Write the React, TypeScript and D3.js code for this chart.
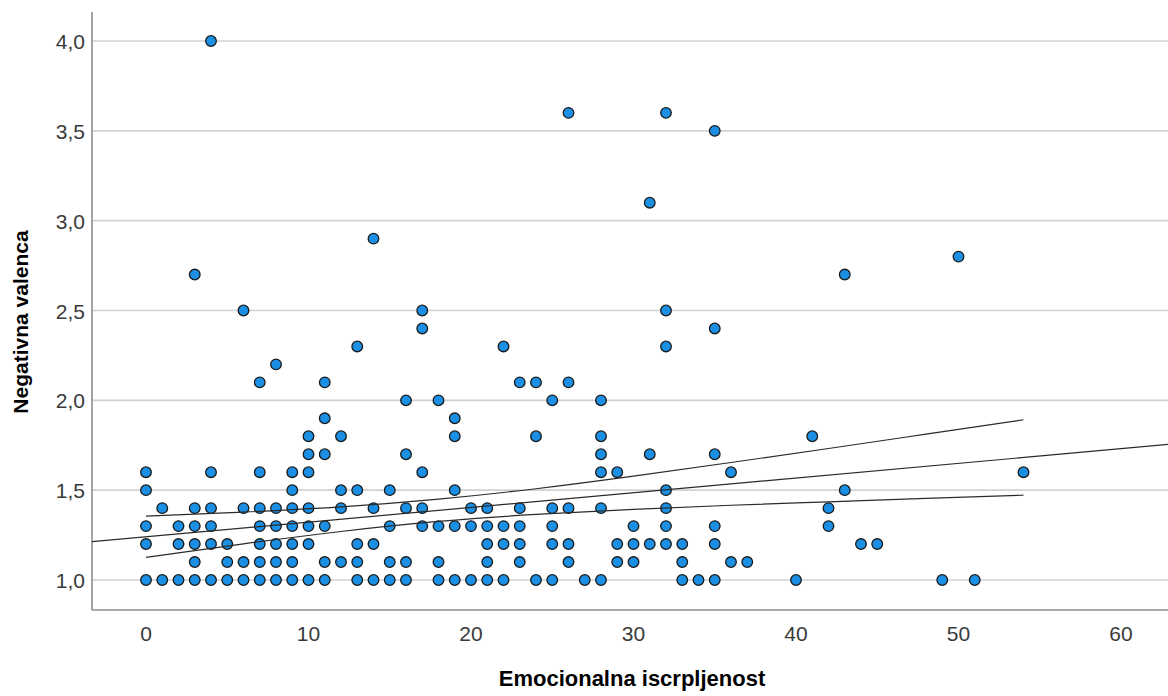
import React from "react";
import * as d3 from "d3";

// x values (Emocionalna iscrpljenost) at each level of Negativna valenca
const valence10 = [0,1,2,3,4,5,6,7,8,9,10,11,13,14,15,16,18,19,20,21,22,24,25,27,28,33,34,35,40,49,51];
const valence11 = [3,5,6,7,8,9,11,12,13,15,16,18,21,23,26,29,30,33,36,37];
const valence12 = [0,2,3,4,5,7,8,9,10,13,14,21,22,23,25,26,29,30,31,32,33,35,44,45];
const valence13 = [0,2,3,4,7,8,9,10,11,15,17,18,19,20,21,22,23,25,30,32,35,42];
const valence14 = [1,3,4,6,7,8,9,10,12,14,16,17,20,21,23,25,26,28,32,42];
const valence15 = [0,9,12,13,15,19,32,43];
const valence16 = [0,4,7,9,10,17,28,29,36,54];
const valence17 = [10,11,16,28,31,35];
const valence18 = [10,12,19,24,28,41];
const valence19 = [11,19];
const valence20 = [16,18,25,28];
const valence21 = [7,11,23,24,26];
const valence22 = [8];
const valence23 = [13,22,32];
const valence24 = [17,35];
const valence25 = [6,17,32];
const valence27 = [3,43];
const valence28 = [50];
const valence29 = [14];
const valence31 = [31];
const valence35 = [35];
const valence36 = [26,32];
const valence40 = [4];

const valenceLevels = [1.0,1.1,1.2,1.3,1.4,1.5,1.6,1.7,1.8,1.9,2.0,2.1,2.2,2.3,2.4,2.5,2.7,2.8,2.9,3.1,3.5,3.6,4.0];
const rows = [valence10,valence11,valence12,valence13,valence14,valence15,valence16,valence17,valence18,valence19,valence20,valence21,valence22,valence23,valence24,valence25,valence27,valence28,valence29,valence31,valence35,valence36,valence40];

// fit line
const fitIntercept = 1.2405;
const fitSlope = 0.00817;
// 95% CI of mean
const ciX = [0, 6, 12, 18, 24, 30, 36, 42, 48, 54];
const ciUpper = [1.355, 1.378, 1.407, 1.450, 1.508, 1.578, 1.654, 1.732, 1.812, 1.892];
const ciLower = [1.126, 1.201, 1.270, 1.326, 1.365, 1.393, 1.416, 1.435, 1.454, 1.472];

const xTicks = [0, 10, 20, 30, 40, 50, 60];
const yTicks = [1.0, 1.5, 2.0, 2.5, 3.0, 3.5, 4.0];

const W = 1168, H = 696;
const left = 92, right = 1168, top = 12, bottom = 610;

export default function App() {
  const x = d3.scaleLinear().domain([0, 60]).range([146, 1121]);
  const y = d3.scaleLinear().domain([1, 4]).range([580, 41]);
  const xMin = x.invert(left), xMax = x.invert(right);

  const points: { xv: number; yv: number }[] = [];
  rows.forEach((r, i) => r.forEach((xv) => points.push({ xv, yv: valenceLevels[i] })));

  const line = d3.line<[number, number]>().x((d) => x(d[0])).y((d) => y(d[1])).curve(d3.curveNatural);
  const upper = line(ciX.map((v, i) => [v, ciUpper[i]] as [number, number])) || "";
  const lower = line(ciX.map((v, i) => [v, ciLower[i]] as [number, number])) || "";
  const fmt = (v: number) => v.toFixed(1).replace(".", ",");
  const font = "'Liberation Sans', Arial, sans-serif";

  return (
    <svg width={W} height={H} style={{ position: "absolute", left: 0, top: 0, background: "#fff" }} fontFamily={font}>
      <defs>
        <clipPath id="plot"><rect x={left} y={top} width={right - left} height={bottom - top} /></clipPath>
      </defs>
      {yTicks.map((t) => (
        <line key={"g" + t} x1={left} x2={right} y1={y(t)} y2={y(t)} stroke="#d2d2d2" strokeWidth={1.6} />
      ))}
      <line x1={left} x2={left} y1={top} y2={bottom} stroke="#8c8c8c" strokeWidth={1.6} />
      <line x1={left} x2={right} y1={bottom} y2={bottom} stroke="#8c8c8c" strokeWidth={1.6} />
      {yTicks.map((t) => (
        <text key={"yl" + t} x={85} y={y(t) + 8} textAnchor="end" fontSize={21} fill="#3a3a3a">{fmt(t)}</text>
      ))}
      {xTicks.map((t) => (
        <text key={"xl" + t} x={x(t)} y={641} textAnchor="middle" fontSize={21} fill="#3a3a3a">{t}</text>
      ))}
      <g clipPath="url(#plot)">
        {points.map((p, i) => (
          <circle key={i} cx={x(p.xv)} cy={y(p.yv)} r={5.3} fill="#1a8fe3" stroke="#1a1a1a" strokeWidth={1.3} />
        ))}
        <line x1={x(xMin)} y1={y(fitIntercept + fitSlope * xMin)} x2={x(xMax)} y2={y(fitIntercept + fitSlope * xMax)} stroke="#2a2a2a" strokeWidth={1.2} />
        <path d={upper} fill="none" stroke="#2a2a2a" strokeWidth={1.2} />
        <path d={lower} fill="none" stroke="#2a2a2a" strokeWidth={1.2} />
      </g>
      <text x={632} y={686} textAnchor="middle" fontSize={22} fontWeight="bold" fill="#000">Emocionalna iscrpljenost</text>
      <text transform={`translate(28,322) rotate(-90)`} textAnchor="middle" fontSize={21} fontWeight="bold" fill="#000">Negativna valenca</text>
    </svg>
  );
}
